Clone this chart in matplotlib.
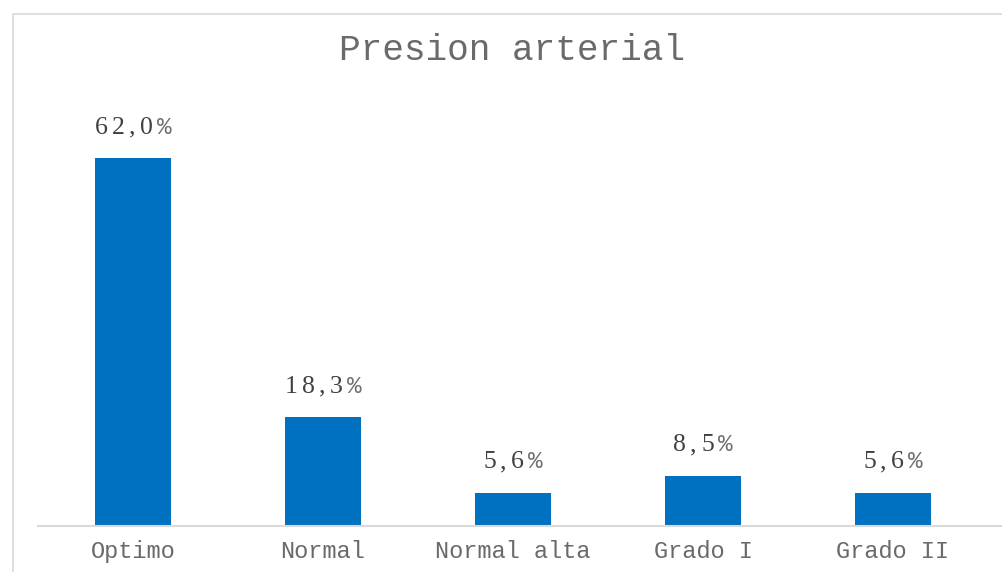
import matplotlib
matplotlib.use("Agg")
import matplotlib.pyplot as plt
from matplotlib.offsetbox import TextArea, HPacker, AnnotationBbox
from matplotlib.patches import Rectangle

# datos
CATEGORIES = ["Optimo", "Normal", "Normal alta", "Grado I", "Grado II"]
VALUES = [62.0, 18.3, 5.6, 8.5, 5.6]
LABELS = ["62,0", "18,3", "5,6", "8,5", "5,6"]
TITLE = "Presion arterial"

BAR_COLOR = "#0070C0"
GRID_COLOR = "#D9D9D9"
TEXT_COLOR = "#6A6A6A"
LABEL_COLOR = "#404040"

fig = plt.figure(figsize=(10.03, 5.72), dpi=100)
W, H = 1003, 572

# borde del grafico
fig.patches.append(Rectangle((13 / W, -0.1), 1.2, (572 - 14) / H + 0.1,
                             transform=fig.transFigure, fill=False,
                             edgecolor=GRID_COLOR, linewidth=1.2))

ax = fig.add_axes([38 / W, 46 / H, 950 / W, (526 - 110.5) / H])
x = list(range(len(CATEGORIES)))
ax.bar(x, VALUES, width=0.4, color=BAR_COLOR, zorder=2)
ax.set_xlim(-0.5, len(CATEGORIES) - 0.5)
ax.set_ylim(0, 70)

for s in ["top", "right", "left"]:
    ax.spines[s].set_visible(False)
ax.spines["bottom"].set_color(GRID_COLOR)
ax.spines["bottom"].set_linewidth(1.5)
ax.spines["bottom"].set_bounds(-0.5, 4.66)
ax.set_yticks([])
ax.set_xticks(x)
ax.set_xticklabels(CATEGORIES, family="Liberation Mono", fontsize=17,
                   color=TEXT_COLOR)
ax.tick_params(axis="x", length=0, pad=10)

# etiquetas de datos
for i, (v, lab) in enumerate(zip(VALUES, LABELS)):
    parts = [TextArea(ch, textprops=dict(family="Liberation Serif", fontsize=18.5,
                                         color=LABEL_COLOR))
             for ch in lab]
    parts.append(TextArea("%", textprops=dict(family="Liberation Mono", fontsize=17.5,
                                              color="#707070")))
    pack = HPacker(children=parts, align="baseline", pad=0, sep=3)
    ab = AnnotationBbox(pack, (i, v), xybox=(0, 14), xycoords="data",
                        boxcoords="offset points", box_alignment=(0.5, 0),
                        frameon=False, pad=0)
    ax.add_artist(ab)

fig.text(512 / W, 1 - 50 / H, TITLE, family="Liberation Mono", fontsize=26,
         color=TEXT_COLOR, ha="center", va="center")

fig.savefig("out.png", dpi=100)
